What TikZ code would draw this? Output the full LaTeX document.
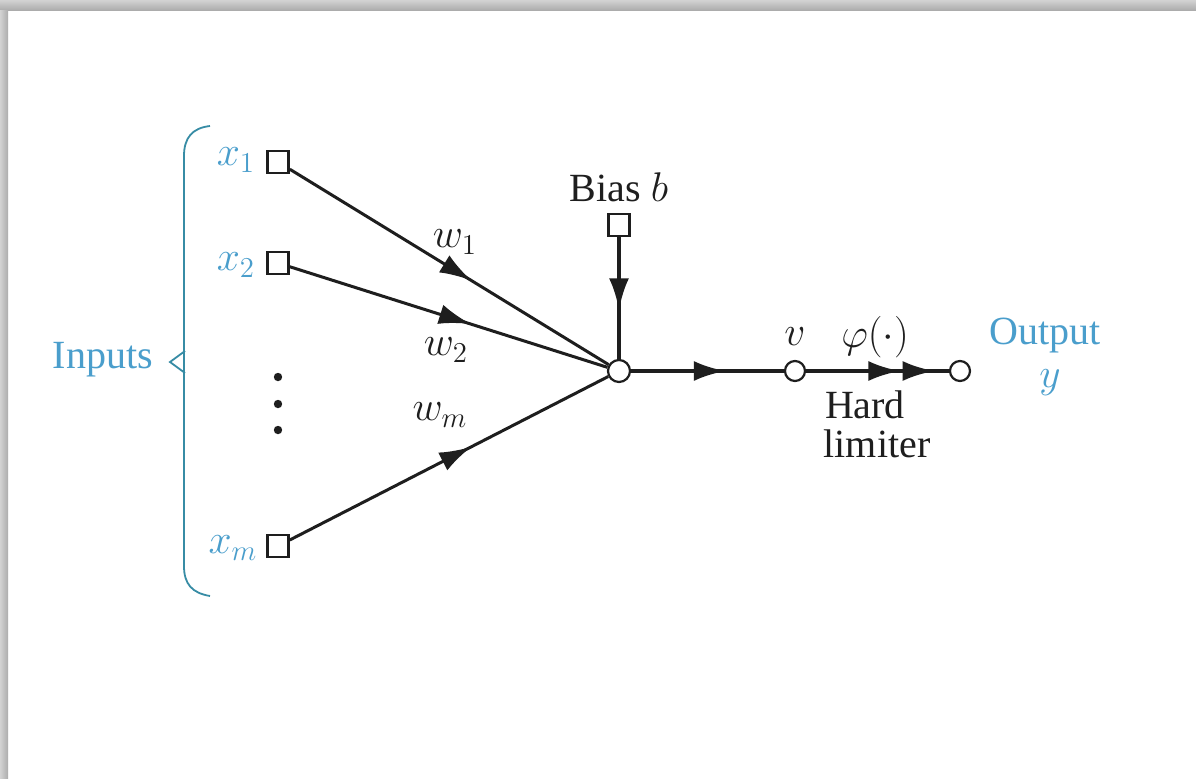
\documentclass[tikz,border=0pt]{standalone}
\usepackage{fontspec}
\setmainfont{Liberation Serif}
\usetikzlibrary{arrows.meta,decorations.markings}
\definecolor{inblue}{RGB}{74,158,204}
\definecolor{bracec}{RGB}{55,140,165}
\definecolor{ink}{RGB}{30,30,30}
\begin{document}
\begin{tikzpicture}[x=0.5pt,y=-0.5pt,
  font=\fontsize{20}{23}\selectfont,
  sq/.style={draw=ink,line width=1.3pt,fill=white,minimum width=10.5pt,minimum height=11pt,inner sep=0pt},
  junc/.style={circle,draw=ink,line width=1.1pt,fill=white,minimum size=11pt,inner sep=0pt},
  wline/.style={draw=ink,line width=1.5pt},
  hline/.style={draw=ink,line width=2.1pt},
  dotn/.style={circle,fill=ink,inner sep=0pt,minimum size=4.2pt},
  lbl/.style={text=ink,inner sep=1pt},
  blbl/.style={text=inblue,inner sep=1pt},
  midarrow/.style={postaction={decorate,decoration={markings,mark=at position #1 with {\arrow[ink]{Latex[length=16pt,width=10pt]}}}}},
]
\useasboundingbox (0,0) rectangle (1196,778);
\fill[white] (0,0) rectangle (1196,778);
\shade[top color=gray!35,bottom color=gray!65] (0,0) rectangle (1196,10);
\shade[left color=gray!35,right color=gray!65] (0,10) rectangle (8,778);

% nodes
\node[sq] (x1) at (278,162) {};
\node[sq] (x2) at (278,263) {};
\node[sq] (xm) at (278,546) {};
\node[sq] (b) at (619,225) {};
\node[junc] (sum) at (619,371) {};
\node[junc,minimum size=10pt] (v) at (795,371) {};
\node[junc,minimum size=10pt] (out) at (960,371) {};

% connectors
\draw[wline,midarrow=0.57] (x1) -- (sum);
\draw[wline,midarrow=0.57] (x2) -- (sum);
\draw[wline,midarrow=0.57] (xm) -- (sum);
\draw[hline,midarrow=0.6] (b) -- (sum);
\draw[hline,midarrow=0.62] (sum) -- (v);
\draw[hline,postaction={decorate,decoration={markings,
   mark=at position 0.66 with {\arrow[ink]{Latex[length=16pt,width=10pt]}},
   mark=at position 0.9 with {\arrow[ink]{Latex[length=16pt,width=10pt]}}}}] (v) -- (out);

% labels
\node[blbl] (lx1) at (236,160) {$x_1$};
\node[blbl] (lx2) at (236,265) {$x_2$};
\node[blbl] (lxm) at (233,548) {$x_m$};
\node[blbl] (inputs) at (103,360) {Inputs};
\node[lbl] (lw1) at (455,242) {$w_1$};
\node[lbl] (lw2) at (446,350) {$w_2$};
\node[lbl] (lwm) at (440,415) {$w_m$};
\node[lbl] (lb) at (619,187) {Bias $b$};
\node[lbl] (lv) at (795,337) {$v$};
\node[lbl] (lphi) at (875,337) {$\varphi(\cdot)$};
\node[lbl] (lhard) at (865,405) {Hard};
\node[lbl] (llim) at (877,444) {limiter};
\node[blbl] (lout) at (1045,336) {Output};
\node[blbl] (ly) at (1050,383) {$y$};

% dots
\node[dotn] (d1) at (278,377) {};
\node[dotn] (d2) at (278,404) {};
\node[dotn] (d3) at (278,430) {};

% brace
\draw[bracec,line width=0.9pt] (210,126) .. controls (192,128) and (184,138) .. (184,156) -- (184,566) .. controls (184,584) and (192,593) .. (210,596);
\draw[bracec,line width=0.9pt] (185,351) -- (170,362) -- (185,373);
\end{tikzpicture}
\end{document}
